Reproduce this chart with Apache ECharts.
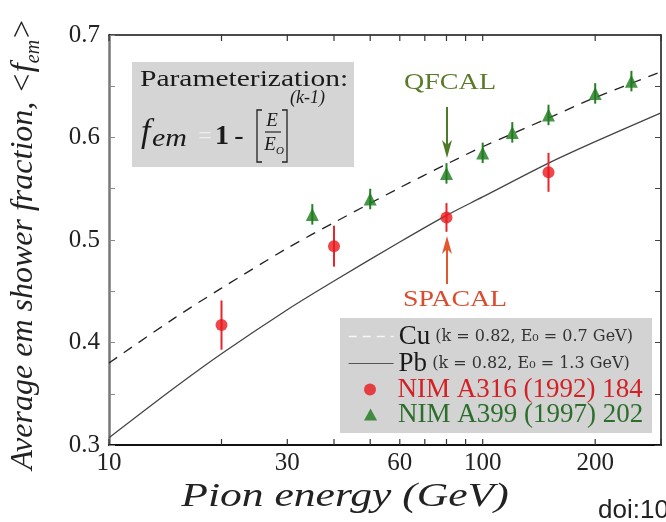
<!DOCTYPE html>
<html><head><meta charset="utf-8">
<script src="https://cdn.jsdelivr.net/npm/echarts@6/dist/echarts.min.js"></script>
<style>html,body{margin:0;padding:0;background:#fff}#c{width:666px;height:522px}</style>
</head><body><div id="c"></div>
<script>
// ---- data ----
const curveEnergy = [10, 15, 20, 30, 40, 60, 80, 100, 150, 200, 300];
const cuFraction  = [0.380, 0.424, 0.453, 0.492, 0.517, 0.551, 0.574, 0.591, 0.619, 0.639, 0.664];
const pbFraction  = [0.307, 0.356, 0.389, 0.432, 0.460, 0.498, 0.524, 0.542, 0.575, 0.596, 0.624];
const spacalEnergy   = [20, 40, 80, 150];
const spacalFraction = [0.417, 0.494, 0.522, 0.566];
const spacalError    = [0.024, 0.020, 0.014, 0.019];
const qfcalEnergy   = [35, 50, 80, 100, 120, 150, 200, 250];
const qfcalFraction = [0.525, 0.540, 0.565, 0.585, 0.605, 0.622, 0.643, 0.655];
const qfcalError    = [0.010, 0.010, 0.010, 0.010, 0.010, 0.010, 0.010, 0.010];
const xTickValues = [10, 20, 30, 40, 50, 60, 70, 80, 90, 100, 200, 300];
const xTickLabels = [10, 30, 60, 100, 200];
const xMin = 10, xMax = 300;
const yMin = 0.3, yMax = 0.7, yStep = 0.1;
const seriesNames = ['Cu', 'Pb', 'NIM A316 (1992) 184', 'NIM A399 (1997) 202'];

const SERIF = 'Liberation Serif, Times New Roman, serif';
const chart = echarts.init(document.getElementById('c'));

const pairs = (xs, ys) => xs.map((x, i) => [x, ys[i]]);
const triples = (xs, ys, es) => xs.map((x, i) => [x, ys[i], es[i]]);

function errRender(color) {
  return function (params, api) {
    const x = api.value(0), y = api.value(1), e = api.value(2);
    const p1 = api.coord([x, y - e]), p2 = api.coord([x, y + e]);
    return {type: 'line', shape: {x1: p1[0], y1: p1[1], x2: p2[0], y2: p2[1]},
            style: {stroke: color, lineWidth: 2}};
  };
}

const legendRich = {
  big: {fontFamily: SERIF, fontSize: 27, color: '#1a1a1a', lineHeight: 24},
  small: {fontFamily: 'DejaVu Serif, serif', fontSize: 16, color: '#333', lineHeight: 24},
  red: {fontFamily: SERIF, fontSize: 27, color: '#d42024', lineHeight: 24},
  green: {fontFamily: SERIF, fontSize: 27, color: '#2c6e2c', lineHeight: 24}
};
function legendText(name) {
  if (name === 'Cu') return '{big|Cu}{small| (k = 0.82, E₀ = 0.7 GeV)}';
  if (name === 'Pb') return '{big|Pb}{small| (k = 0.82, E₀ = 1.3 GeV)}';
  if (name === seriesNames[2]) return '{red|' + name + '}';
  return '{green|' + name + '}';
}
const legendItems = [
  {name: seriesNames[0], lineStyle: {color: '#f6f6f6', type: [8, 6], width: 1.5}, itemStyle: {opacity: 0}},
  {name: seriesNames[1], lineStyle: {color: '#555', width: 1.2}, itemStyle: {opacity: 0}},
  {name: seriesNames[2], icon: 'circle'},
  {name: seriesNames[3], icon: 'path://M6,0L12,11L0,11Z'}
];
const legendCenters = [335, 362, 388, 413];
const legendLefts = [348, 348, 364, 364];

const option = {
  animation: false,
  grid: {left: 109, right: 5, top: 35, bottom: 77, containLabel: false},
  xAxis: [
    {type: 'log', logBase: 10, min: xMin, max: xMax, position: 'bottom',
     axisLine: {lineStyle: {color: '#111', width: 2}},
     axisTick: {show: false}, axisLabel: {show: false}, splitLine: {show: false}, minorTick: {show: false}},
    {type: 'log', logBase: 10, min: xMin, max: xMax, position: 'top',
     axisLine: {lineStyle: {color: '#111', width: 1.5}},
     axisTick: {show: false}, axisLabel: {show: false}, splitLine: {show: false}}
  ],
  yAxis: [
    {type: 'value', min: yMin, max: yMax, interval: yStep, position: 'left',
     axisLine: {lineStyle: {color: '#777', width: 2.5}},
     axisTick: {inside: true, length: 6, lineStyle: {color: '#888'}},
     minorTick: {show: true, splitNumber: 2, length: 6, lineStyle: {color: '#888'}},
     splitLine: {show: false},
     axisLabel: {fontFamily: SERIF, fontSize: 25, color: '#222', margin: 9}},
    {type: 'value', min: yMin, max: yMax, interval: yStep, position: 'right',
     axisLine: {lineStyle: {color: '#111', width: 1.5}},
     axisTick: {inside: true, length: 6, lineStyle: {color: '#444'}},
     minorTick: {show: true, splitNumber: 2, length: 6, lineStyle: {color: '#444'}},
     splitLine: {show: false}, axisLabel: {show: false}}
  ],
  legend: legendItems.map((item, i) => ({
    orient: 'vertical', left: legendLefts[i], top: legendCenters[i] - 12, padding: 0,
    itemWidth: 45, itemHeight: 12, symbolKeepAspect: true,
    data: [item], formatter: legendText,
    textStyle: {lineHeight: 24, rich: legendRich}
  })),
  series: [
    {name: seriesNames[0], type: 'line', data: pairs(curveEnergy, cuFraction), smooth: 0.3,
     showSymbol: false, symbol: 'none', lineStyle: {color: '#222', width: 1.3, type: [10, 8]}, itemStyle: {color: '#222'}, z: 2},
    {name: seriesNames[1], type: 'line', data: pairs(curveEnergy, pbFraction), smooth: 0.3,
     showSymbol: false, symbol: 'none', lineStyle: {color: '#444', width: 1.3}, itemStyle: {color: '#444'}, z: 2},
    {type: 'custom', renderItem: errRender('#e8262a'), data: triples(spacalEnergy, spacalFraction, spacalError), z: 3, silent: true},
    {type: 'custom', renderItem: errRender('#238023'), data: triples(qfcalEnergy, qfcalFraction, qfcalError), z: 3, silent: true},
    {name: seriesNames[2], type: 'scatter', data: pairs(spacalEnergy, spacalFraction), symbol: 'circle', symbolSize: 12,
     itemStyle: {color: '#e8191c'}, z: 4},
    {name: seriesNames[3], type: 'scatter', data: pairs(qfcalEnergy, qfcalFraction), symbol: 'triangle', symbolSize: 13,
     itemStyle: {color: '#1d7a1d'}, z: 4},
    // x-axis ticks (bottom and top, pointing inward)
    {type: 'custom', silent: true, z: 5, data: xTickValues.map(v => [v, yMin]),
     renderItem: function (params, api) {
       const v = api.value(0);
       const b = api.coord([v, yMin]), t = api.coord([v, yMax]);
       return {type: 'group', children: [
         {type: 'line', shape: {x1: b[0], y1: b[1], x2: b[0], y2: b[1] - 6}, style: {stroke: '#333', lineWidth: 1.2}},
         {type: 'line', shape: {x1: t[0], y1: t[1], x2: t[0], y2: t[1] + 6}, style: {stroke: '#333', lineWidth: 1.2}}
       ]};
     }},
    // x-axis tick labels
    {type: 'custom', silent: true, z: 5, data: xTickLabels.map(v => [v, yMin]),
     renderItem: function (params, api) {
       const v = api.value(0);
       const b = api.coord([v, yMin]);
       return {type: 'text', x: b[0], y: b[1] + 18,
               style: {text: String(v), fontFamily: SERIF, fontSize: 25, fill: '#222', align: 'center', verticalAlign: 'middle'}};
     }}
  ],
  graphic: [
    // legend background
    {type: 'rect', shape: {x: 340, y: 318, width: 312, height: 115}, style: {fill: '#d3d3d3'}, z: 1},
    // parameterization box
    {type: 'rect', shape: {x: 132, y: 62, width: 222, height: 105}, style: {fill: '#d5d5d5'}, z: 1},
    {type: 'text', x: 140, y: 80, scaleX: 1.23, style: {text: 'Parameterization:', fontFamily: SERIF, fontSize: 24, fill: '#1a1a1a', align: 'left', verticalAlign: 'middle'}, z: 2},
    {type: 'text', x: 141, y: 133, style: {text: 'f', fontFamily: SERIF, fontStyle: 'italic', fontSize: 34, fill: '#1a1a1a', align: 'left', verticalAlign: 'middle'}, z: 2},
    {type: 'text', x: 152, y: 139, scaleX: 1.2, style: {text: 'em', fontFamily: SERIF, fontStyle: 'italic', fontSize: 25, fill: '#1a1a1a', align: 'left', verticalAlign: 'middle'}, z: 2},
    {type: 'text', x: 205, y: 137, style: {text: '=', fontFamily: SERIF, fontSize: 24, fill: '#ededed', align: 'center', verticalAlign: 'middle'}, z: 2},
    {type: 'text', x: 222, y: 137, style: {text: '1', fontFamily: SERIF, fontSize: 28, fontWeight: 'bold', fill: '#1a1a1a', align: 'center', verticalAlign: 'middle'}, z: 2},
    {type: 'text', x: 239, y: 137, style: {text: '-', fontFamily: SERIF, fontSize: 28, fill: '#1a1a1a', align: 'center', verticalAlign: 'middle'}, z: 2},
    {type: 'polyline', shape: {points: [[262, 110], [257, 110], [257, 162], [262, 162]]}, style: {stroke: '#222', lineWidth: 1.3, fill: null}, z: 2},
    {type: 'polyline', shape: {points: [[282, 110], [287, 110], [287, 162], [282, 162]]}, style: {stroke: '#222', lineWidth: 1.3, fill: null}, z: 2},
    {type: 'text', x: 272, y: 121, style: {text: 'E', fontFamily: SERIF, fontStyle: 'italic', fontSize: 19, fill: '#1a1a1a', align: 'center', verticalAlign: 'middle'}, z: 2},
    {type: 'line', shape: {x1: 265, y1: 132, x2: 281, y2: 132}, style: {stroke: '#222', lineWidth: 1.2}, z: 2},
    {type: 'text', x: 270, y: 145, style: {text: 'E', fontFamily: SERIF, fontStyle: 'italic', fontSize: 19, fill: '#1a1a1a', align: 'center', verticalAlign: 'middle'}, z: 2},
    {type: 'text', x: 280, y: 151, style: {text: 'O', fontFamily: SERIF, fontStyle: 'italic', fontSize: 11, fill: '#1a1a1a', align: 'center', verticalAlign: 'middle'}, z: 2},
    {type: 'text', x: 290, y: 98, style: {text: '(k-1)', fontFamily: SERIF, fontStyle: 'italic', fontSize: 18, fill: '#1a1a1a', align: 'left', verticalAlign: 'middle'}, z: 2},
    // annotations
    {type: 'text', x: 450, y: 83, scaleX: 1.17, style: {text: 'QFCAL', fontFamily: SERIF, fontSize: 24, fill: '#5b7b2b', align: 'center', verticalAlign: 'middle'}},
    {type: 'line', shape: {x1: 447, y1: 107, x2: 447, y2: 150}, style: {stroke: '#4f7a28', lineWidth: 2}},
    {type: 'polygon', shape: {points: [[442, 140], [447, 158], [452, 140], [447, 145]]}, style: {fill: '#4f7a28'}},
    {type: 'line', shape: {x1: 447, y1: 284, x2: 447, y2: 246}, style: {stroke: '#e2572f', lineWidth: 2}},
    {type: 'polygon', shape: {points: [[442, 254], [447, 236], [452, 254], [447, 249]]}, style: {fill: '#e2572f'}},
    {type: 'text', x: 455, y: 300, scaleX: 1.16, style: {text: 'SPACAL', fontFamily: SERIF, fontSize: 24, fill: '#dd4b2e', align: 'center', verticalAlign: 'middle'}},
    // axis titles
    {type: 'text', x: 345, y: 497, scaleX: 1.32, style: {text: 'Pion energy (GeV)', fontFamily: SERIF, fontStyle: 'italic', fontSize: 33, fill: '#222', align: 'center', verticalAlign: 'middle'}},
    {type: 'text', x: 24, y: 244, rotation: Math.PI / 2,
     style: {text: 'Average em shower fraction, <{f|f}{s|em}>', fontFamily: SERIF, fontStyle: 'italic', fontSize: 32, fill: '#222', align: 'center', verticalAlign: 'middle',
             rich: {f: {fontFamily: SERIF, fontStyle: 'italic', fontSize: 32, lineHeight: 36},
                    s: {fontFamily: SERIF, fontStyle: 'italic', fontSize: 20, verticalAlign: 'bottom', lineHeight: 40}}}},
    {type: 'text', x: 598, y: 511, style: {text: 'doi:10', fontFamily: 'Liberation Sans, Arial, sans-serif', fontSize: 26, fill: '#222', align: 'left', verticalAlign: 'middle'}}
  ]
};
chart.setOption(option);
</script></body></html>
